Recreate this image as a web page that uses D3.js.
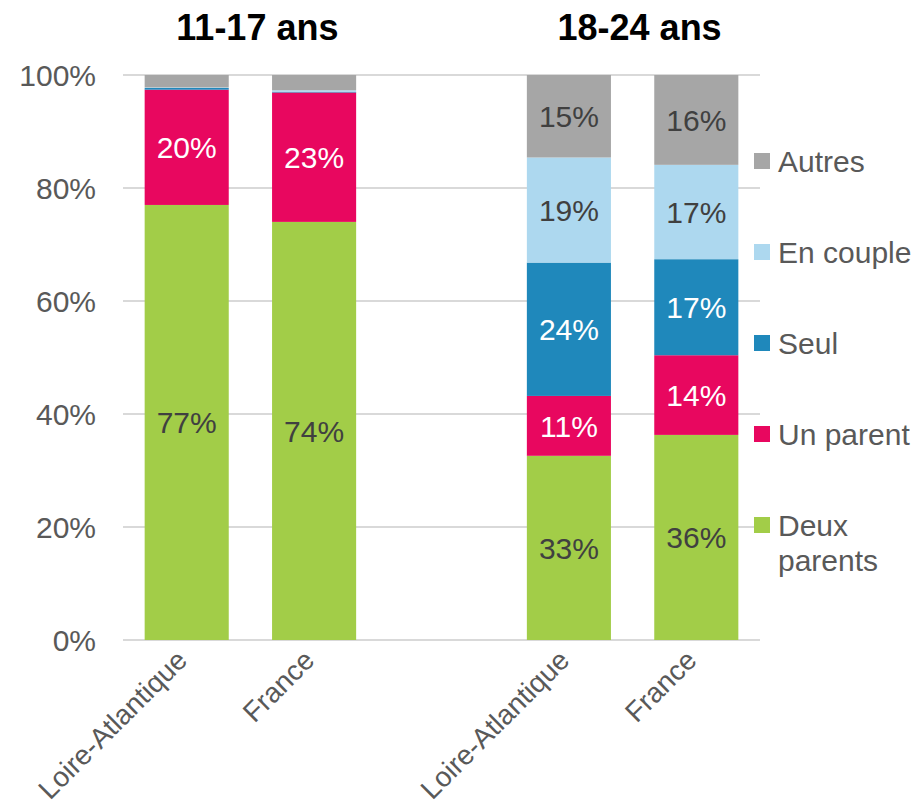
<!DOCTYPE html>
<html>
<head>
<meta charset="utf-8">
<script src="https://cdn.jsdelivr.net/npm/d3@7"></script>
<style>
  body { margin: 0; background: #fff; }
  text { font-family: Arial, "Liberation Sans", sans-serif; }
</style>
</head>
<body>
<svg id="chart" width="922" height="806"></svg>
<script>
// groupes d'âge et territoires
const groups = ["11-17 ans", "18-24 ans"];
const places = ["Loire-Atlantique", "France"];
const seriesNames = ["Deux parents", "Un parent", "Seul", "En couple", "Autres"];

// valeurs en % : ordre [11-17 LA, 11-17 FR, 18-24 LA, 18-24 FR]
const deuxParents = [77.0, 74.0, 32.6, 36.3];
const unParent    = [20.4, 22.9, 10.6, 14.1];
const seul        = [0.3, 0.1, 23.6, 17.0];
const enCouple    = [0.1, 0.3, 18.6, 16.7];
const autres      = [2.2, 2.7, 14.6, 15.9];

const yTicks = [0, 20, 40, 60, 80, 100];

const colors = ["#a2cd48", "#e8075f", "#1f88bb", "#add8ef", "#a6a6a6"];
const labelColors = ["#404040", "#ffffff", "#ffffff", "#404040", "#404040"];

const svg = d3.select("#chart");

const plotLeft = 123, plotRight = 760, plotTop = 75, plotBottom = 640;

// 5 emplacements : 2 barres, un vide, 2 barres
const slots = ["g0-0", "g0-1", "gap", "g1-0", "g1-1"];
const barSlots = ["g0-0", "g0-1", "g1-0", "g1-1"];

const x = d3.scaleBand()
    .domain(slots)
    .range([plotLeft, plotRight])
    .paddingInner(0.34)
    .paddingOuter(0.17);

const y = d3.scaleLinear()
    .domain([0, 100])
    .range([plotBottom, plotTop]);

// grille
svg.append("g")
    .selectAll("line")
    .data(yTicks)
    .join("line")
    .attr("x1", plotLeft)
    .attr("x2", plotRight)
    .attr("y1", d => y(d))
    .attr("y2", d => y(d))
    .attr("stroke", "#d9d9d9")
    .attr("stroke-width", 2);

// étiquettes axe Y
svg.append("g")
    .selectAll("text")
    .data(yTicks)
    .join("text")
    .attr("x", 96)
    .attr("y", d => y(d))
    .attr("dy", "0.36em")
    .attr("text-anchor", "end")
    .attr("font-size", 30)
    .attr("fill", "#595959")
    .text(d => d + "%");

// empilement
const rows = barSlots.map((s, i) => {
    const r = { slot: s };
    r["Deux parents"] = deuxParents[i];
    r["Un parent"] = unParent[i];
    r["Seul"] = seul[i];
    r["En couple"] = enCouple[i];
    r["Autres"] = autres[i];
    return r;
});

const stacked = d3.stack().keys(seriesNames)(rows);

const layer = svg.append("g")
    .selectAll("g")
    .data(stacked)
    .join("g")
    .attr("fill", (d, i) => colors[i]);

layer.selectAll("rect")
    .data(d => d)
    .join("rect")
    .attr("x", d => x(d.data.slot))
    .attr("width", x.bandwidth())
    .attr("y", d => y(d[1]))
    .attr("height", d => y(d[0]) - y(d[1]));

// étiquettes de valeur
stacked.forEach((s, i) => {
    svg.append("g")
        .selectAll("text")
        .data(s.filter(d => d[1] - d[0] >= 5))
        .join("text")
        .attr("x", d => x(d.data.slot) + x.bandwidth() / 2)
        .attr("y", d => y((d[0] + d[1]) / 2))
        .attr("dy", "0.36em")
        .attr("text-anchor", "middle")
        .attr("font-size", 30)
        .attr("fill", labelColors[i])
        .text(d => Math.round(d[1] - d[0]) + "%");
});

// étiquettes de catégories
svg.append("g")
    .selectAll("text")
    .data(barSlots)
    .join("text")
    .attr("transform", d => "translate(" + (x(d) + x.bandwidth() / 2 + 2) + "," + 662 + ") rotate(-45)")
    .attr("text-anchor", "end")
    .attr("font-size", 28)
    .attr("fill", "#595959")
    .text((d, i) => places[i % 2]);

// titres des groupes
svg.append("g")
    .selectAll("text")
    .data(groups)
    .join("text")
    .attr("x", (d, i) => (x("g" + i + "-0") + x("g" + i + "-1") + x.bandwidth()) / 2 + 7)
    .attr("y", 40)
    .attr("text-anchor", "middle")
    .attr("font-size", 36)
    .attr("font-weight", "bold")
    .attr("fill", "#000")
    .text(d => d);

// légende
const legendItems = seriesNames.slice().reverse();
const legend = svg.append("g")
    .selectAll("g")
    .data(legendItems)
    .join("g")
    .attr("transform", (d, i) => "translate(754," + (172 + i * 91) + ")");

legend.append("rect")
    .attr("y", -19)
    .attr("width", 16)
    .attr("height", 16)
    .attr("fill", d => colors[seriesNames.indexOf(d)]);

legend.append("text")
    .attr("x", 24)
    .attr("font-size", 30)
    .attr("fill", "#595959")
    .each(function (d) {
        const words = d === "Deux parents" ? ["Deux", "parents"] : [d];
        d3.select(this).selectAll("tspan")
            .data(words)
            .join("tspan")
            .attr("x", 24)
            .attr("dy", (w, j) => j === 0 ? 0 : 35)
            .text(w => w);
    });
</script>
</body>
</html>
